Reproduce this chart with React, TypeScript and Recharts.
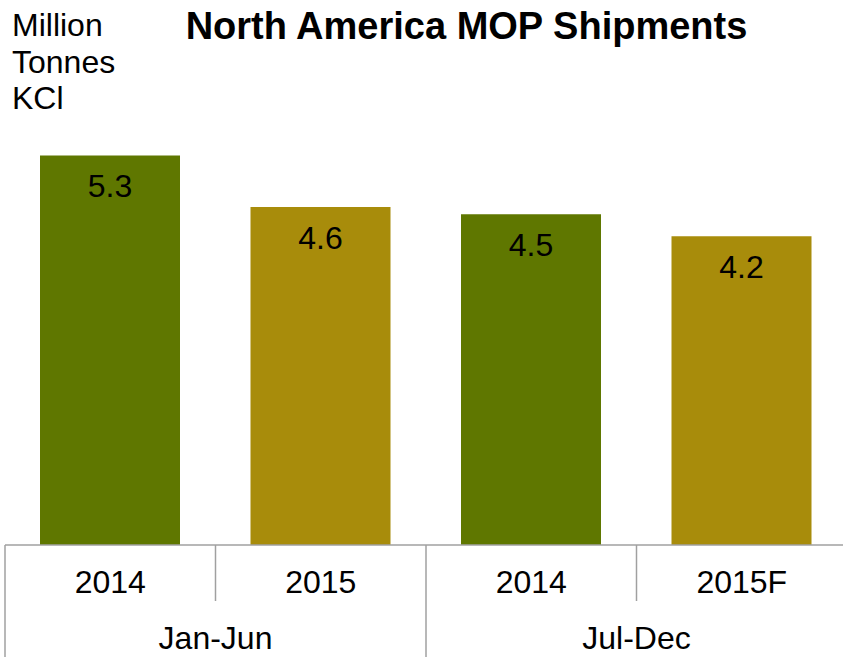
import { BarChart, Bar, XAxis, YAxis, Cell, LabelList } from "recharts";

const years = ["2014", "2015", "2014", "2015F"];
const periods = ["Jan-Jun", "Jan-Jun", "Jul-Dec", "Jul-Dec"];
const shipments = [5.3, 4.6, 4.5, 4.2];
const barColors = ["#5f7700", "#a88c0b", "#5f7700", "#a88c0b"];

const data = years.map((year, i) => ({
	key: `${periods[i]}-${year}`,
	year,
	period: periods[i],
	value: shipments[i],
}));

const CHART_W = 848;
const CHART_H = 657;
const MARGIN = { top: 104, right: 1, bottom: 0, left: 5 };
const CAT_W = (CHART_W - MARGIN.left - MARGIN.right) / data.length;
const FONT = "Arial, 'Liberation Sans', sans-serif";
const LINE = "#a0a0a0";

const GroupTick = (props: any) => {
	const { x, y, index } = props;
	const item = data[index];
	const left = x - CAT_W / 2;
	const groupStart = index === 0 || data[index - 1].period !== item.period;
	return (
		<g>
			<line x1={left} x2={left} y1={y} y2={groupStart ? CHART_H : y + 56} stroke={LINE} strokeWidth={1.5} />
			<text x={x} y={y + 48} textAnchor="middle" fontSize={32} fontFamily={FONT} fill="#000">
				{item.year}
			</text>
			{groupStart && (
				<text x={x + CAT_W / 2} y={y + 104} textAnchor="middle" fontSize={32} fontFamily={FONT} fill="#000">
					{item.period}
				</text>
			)}
		</g>
	);
};

const App = () => {
	return (
		<div style={{ position: "absolute", top: 0, left: 0, width: 843, height: 657, overflow: "hidden", background: "#fff" }}>
			<div
				style={{
					position: "absolute",
					left: 12,
					top: 7,
					fontFamily: FONT,
					fontSize: 32,
					lineHeight: "36.5px",
					color: "#000",
					zIndex: 2,
				}}
			>
				Million
				<br />
				Tonnes
				<br />
				KCl
			</div>
			<div
				style={{
					position: "absolute",
					left: 0,
					width: 933,
					top: 5,
					textAlign: "center",
					fontFamily: FONT,
					fontSize: 38,
					fontWeight: "bold",
					color: "#000",
					zIndex: 2,
				}}
			>
				North America MOP Shipments
			</div>
			<BarChart width={CHART_W} height={CHART_H} data={data} margin={MARGIN} barSize={140}>
				<XAxis
					dataKey="key"
					height={112}
					interval={0}
					tickLine={false}
					tickSize={0}
					tickMargin={0}
					axisLine={{ stroke: LINE, strokeWidth: 1.5 }}
					tick={<GroupTick />}
				/>
				<YAxis hide domain={[0, 6]} />
				<Bar dataKey="value" isAnimationActive={false}>
					{data.map((d, i) => (
						<Cell key={d.key} fill={barColors[i]} />
					))}
					<LabelList
						dataKey="value"
						position="insideTop"
						offset={19}
						fontSize={32}
						fontFamily={FONT}
						fill="#000"
						formatter={(v: any) => Number(v).toFixed(1)}
					/>
				</Bar>
			</BarChart>
		</div>
	);
};

export default App;
